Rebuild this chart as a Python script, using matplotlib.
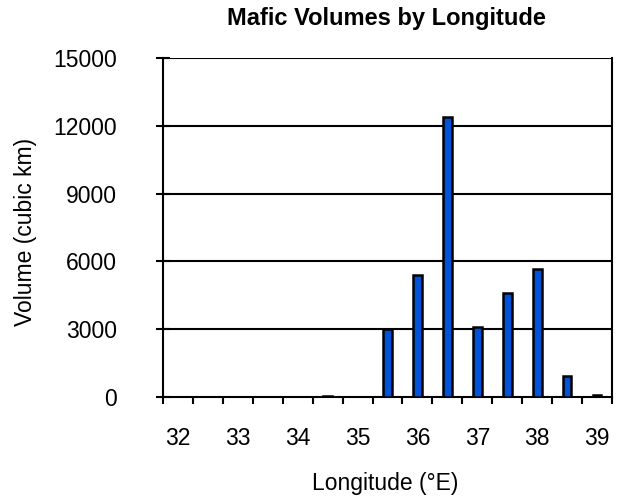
import matplotlib
matplotlib.use("Agg")
import matplotlib.pyplot as plt
import numpy as np

plt.rcParams['font.family'] = ['Liberation Sans', 'DejaVu Sans']

longitudes = [32, 32.5, 33, 33.5, 34, 34.5, 35, 35.5, 36, 36.5, 37, 37.5, 38, 38.5, 39]
volumes = [0, 0, 0, 0, 0, 50, 0, 3000, 5400, 12400, 3100, 4600, 5650, 950, 80]
y_ticks = [0, 3000, 6000, 9000, 12000, 15000]
title = "Mafic Volumes by Longitude"
xlabel = "Longitude (°E)"
ylabel = "Volume (cubic km)"

W, H = 621, 501
fig = plt.figure(figsize=(W / 100, H / 100), dpi=100)
ax = fig.add_axes([163 / W, 1 - 397 / H, 449 / W, 339 / H])

x = np.arange(len(longitudes))
ax.bar(x, volumes, width=0.29, color='#0052D6', edgecolor='black', linewidth=1.8, zorder=3)

ax.set_xlim(-0.5, len(longitudes) - 0.5)
ax.set_ylim(0, 15000)
ax.set_yticks(y_ticks)
ax.set_yticklabels([str(v) for v in y_ticks], fontsize=16.5)
for v in y_ticks[1:]:
    ax.axhline(v, color='black', linewidth=1.5, zorder=1)

# category labels every whole degree, ticks at category boundaries
ax.set_xticks(np.arange(-0.5, len(longitudes), 1.0))
ax.set_xticklabels([])
ax.set_xticks(x, minor=True)
ax.set_xticklabels([str(int(l)) if float(l).is_integer() else '' for l in longitudes],
                   minor=True, fontsize=16.5)
ax.tick_params(axis='x', which='minor', length=0, pad=21.6)
ax.tick_params(axis='x', which='major', length=5, width=1.5, direction='out')
ax.tick_params(axis='y', length=9.4, width=1.5, direction='inout', pad=28.4)

for s in ['left', 'right', 'bottom']:
    ax.spines[s].set_linewidth(1.5)
ax.spines['top'].set_visible(False)

fig.text(386 / W, 1 - 25 / H, title, fontsize=17, fontweight='bold', ha='center', va='baseline')
fig.text(385.5 / W, 1 - 490 / H, xlabel, fontsize=16.5, ha='center', va='baseline')
fig.text(26 / W, 1 - 232 / H, ylabel, fontsize=16.5, ha='center', va='center', rotation=90)

fig.savefig("out.png", dpi=100)
